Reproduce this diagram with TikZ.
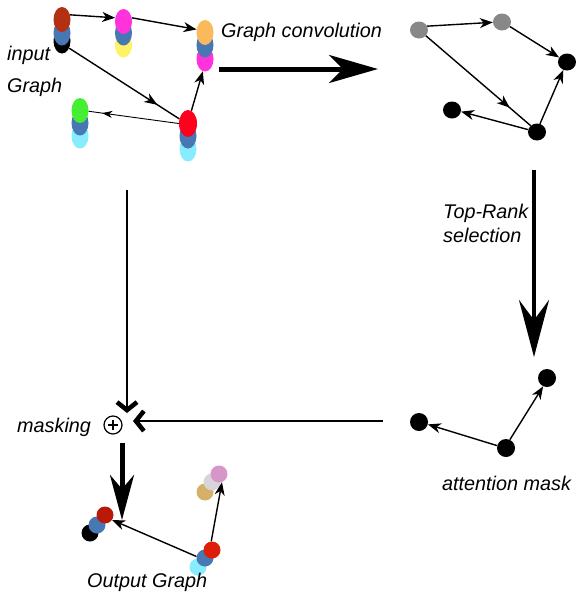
\documentclass[tikz,border=0pt]{standalone}
\usepackage{fontspec}
\setmainfont{Liberation Sans}
\usetikzlibrary{arrows.meta,shapes.geometric,decorations.markings,calc}
\definecolor{cbrown}{RGB}{180,48,18}
\definecolor{cblue}{RGB}{72,120,180}
\definecolor{cmag}{RGB}{255,50,220}
\definecolor{cyel}{RGB}{255,242,100}
\definecolor{corange}{RGB}{250,185,90}
\definecolor{cgreen}{RGB}{70,238,50}
\definecolor{cred}{RGB}{255,0,30}
\definecolor{ccyan}{RGB}{136,236,255}
\definecolor{cgray}{RGB}{136,136,136}
\definecolor{ctan}{RGB}{212,176,104}
\definecolor{clgray}{RGB}{216,212,218}
\definecolor{cpink}{RGB}{214,150,200}
\definecolor{cored}{RGB}{220,30,10}
\begin{document}
\begin{tikzpicture}[x=1pt,y=-1pt,
  dot/.style={ellipse,inner sep=0pt,minimum width=17pt,minimum height=25pt},
  rdot/.style={ellipse,inner sep=0pt,minimum width=18pt,minimum height=17pt,fill=black},
  odot/.style={circle,inner sep=0pt,minimum size=17pt},
  edge/.style={line width=1.4pt,-{Stealth[length=13pt,width=10pt,inset=4pt]}},
  midedge/.style={line width=1.4pt,postaction={decorate},
    decoration={markings,mark=at position #1 with {\arrow{Stealth[length=13pt,width=10pt,inset=4pt]}}}},
  lbl/.style={font=\fontsize{19.8}{23}\selectfont\itshape,inner sep=0pt,anchor=base west},
  chev/.style={line width=1.5pt,-{Straight Barb[length=8pt,width=20pt,line width=4.5pt]}}
]
\useasboundingbox (0,0) rectangle (582,600);

% ---- input graph ----
\node[dot,fill=black] (a3) at (62,41) {};
\node[dot,fill=cblue] (a2) at (62,33) {};
\node[dot,fill=cbrown] (a) at (62,19.5) {};

\node[dot,fill=cyel] (b3) at (123.5,45) {};
\node[dot,fill=cblue] (b2) at (123.5,33) {};
\node[dot,fill=cmag] (b) at (123.5,21.5) {};

\node[dot,fill=cmag] (c3) at (205,59) {};
\node[dot,fill=cblue] (c2) at (205,45) {};
\node[dot,fill=corange] (c) at (205,32.5) {};

\node[dot,fill=ccyan] (d3) at (80,136) {};
\node[dot,fill=cblue] (d2) at (80,123) {};
\node[dot,fill=cgreen] (d) at (80,110.5) {};

\node[dot,fill=ccyan] (e3) at (188,149) {};
\node[dot,fill=cblue] (e2) at (188,136) {};
\node[dot,fill=cred,minimum width=18pt,minimum height=27pt] (e) at (188,123.5) {};

\draw[edge] (a.30) -- (b.156);
\draw[edge] (b.24) -- (c.160);
\draw[midedge=0.8] (a3.-45) -- (e.152);
\draw[edge] (e.75) -- (c3.-100);
\draw[line width=0.9pt,postaction={decorate},
  decoration={markings,mark=at position 0.85 with {\arrow{Stealth[length=10pt,width=7pt,inset=3pt]}}}] (e.180) -- (d.-5);

\node[lbl] (tin) at (7,60) {input};
\node[lbl] (tgr) at (7,92) {Graph};
\node[lbl] (tconv) at (221,37) {Graph convolution};

% ---- big arrow ----
\coordinate (bs) at (219,69);
\coordinate (be) at (378,69);
\draw[line width=5pt,-{Stealth[length=49pt,width=28pt,inset=14pt]}] (bs) -- (be);

% ---- convolved graph ----
\node[rdot,fill=cgray] (g1) at (419,30) {};
\node[rdot,fill=cgray] (g2) at (502,22) {};
\node[rdot] (k1) at (567,62) {};
\node[rdot] (k2) at (537,132) {};
\node[rdot] (k3) at (452,110) {};
\draw[edge] (g1.25) -- (g2.182);
\draw[edge] (g2.-30) -- (k1.150);
\draw[midedge=0.8] (g1.-40) -- (k2.135);
\draw[edge] (k2.70) -- (k1.-115);
\draw[edge] (k2.165) -- (k3.-10);

% ---- top-rank arrow ----
\coordinate (ts) at (534,170);
\coordinate (te) at (534,357);
\draw[line width=4.5pt,-{Stealth[length=57pt,width=30pt,inset=20pt]}] (ts) -- (te);
\node[lbl] (ttop) at (443,218) {Top-Rank};
\node[lbl] (tsel) at (443,242) {selection};

% ---- attention mask ----
\node[rdot,minimum width=18pt,minimum height=18pt] (m1) at (547,378) {};
\node[rdot,minimum width=18pt,minimum height=18pt] (m2) at (419,422) {};
\node[rdot,minimum width=18pt,minimum height=18pt] (m3) at (506,448) {};
\draw[edge] (m3.65) -- (m1.-115);
\draw[edge] (m3.165) -- (m2.-15);
\node[lbl] (tatt) at (442,490) {attention mask};

% ---- masking ----
\node[circle,draw,line width=1.2pt,minimum size=18pt,inner sep=0pt] (plus) at (113,425) {};
\draw[line width=1.8pt] ($(plus.center)+(-5,0)$) -- ($(plus.center)+(5,0)$);
\draw[line width=1.8pt] ($(plus.center)+(0,-5)$) -- ($(plus.center)+(0,5)$);
\coordinate (vs) at (127,190);
\coordinate (ve) at (127,413);
\draw[chev] (vs) -- (ve);
\coordinate (hs) at (383,421);
\coordinate (he) at (133,421);
\draw[chev] (hs) -- (he);
\node[lbl] (tmask) at (17,432) {masking};

\coordinate (ds) at (122,443);
\coordinate (de) at (122,520);
\draw[line width=5pt,-{Stealth[length=45pt,width=24pt,inset=14pt]}] (ds) -- (de);

% ---- output graph ----
\node[odot,fill=black] (o1c) at (90,533) {};
\node[odot,fill=cblue] (o1b) at (97,525) {};
\node[odot,fill=cored!85!black] (o1) at (105,515) {};

\node[odot,fill=ctan] (o2c) at (205,492) {};
\node[odot,fill=clgray] (o2b) at (212,482) {};
\node[odot,fill=cpink] (o2) at (219,474) {};

\node[odot,fill=ccyan] (o3c) at (198,567) {};
\node[odot,fill=cblue] (o3b) at (205,558) {};
\node[odot,fill=cored] (o3) at (212,550) {};

\draw[edge] (o3b.170) -- (o1.-35);
\draw[edge] (o3.95) -- (o2.-70);
\node[lbl] (tout) at (87,587) {Output Graph};
\end{tikzpicture}
\end{document}
